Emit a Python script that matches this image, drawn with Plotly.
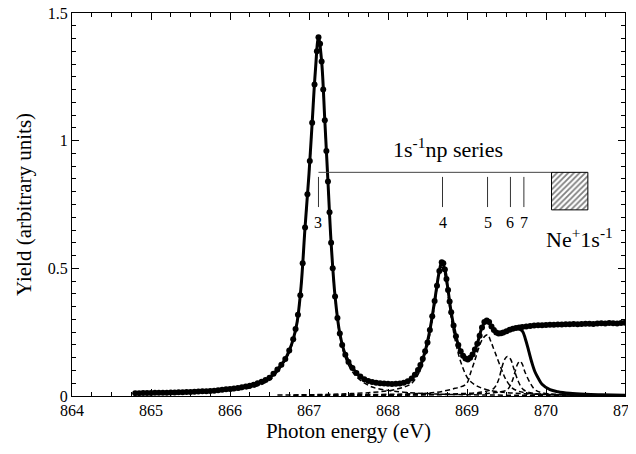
import plotly.graph_objects as go

# ---------------- data ----------------
data_e = [864.80, 864.85, 864.90, 864.95, 865.00, 865.05, 865.10, 865.15, 865.20, 865.25,
          865.30, 865.35, 865.40, 865.45, 865.50, 865.55, 865.60, 865.65, 865.70, 865.75,
          865.80, 865.85, 865.90, 865.95, 866.00, 866.05, 866.10, 866.15, 866.20, 866.25,
          866.30, 866.35, 866.40, 866.45, 866.50, 866.55, 866.60, 866.65, 866.70, 866.75,
          866.80, 866.83, 866.86, 866.89, 866.92, 866.95, 866.98, 867.01, 867.04, 867.07,
          867.10, 867.12, 867.14, 867.16, 867.18, 867.20, 867.22, 867.24, 867.26, 867.28,
          867.30, 867.33, 867.36, 867.39, 867.42, 867.46, 867.50, 867.55, 867.60, 867.65,
          867.70, 867.75, 867.80, 867.85, 867.90, 867.95, 868.00, 868.05, 868.10, 868.15,
          868.20, 868.25, 868.30, 868.34, 868.38, 868.41, 868.44, 868.47, 868.50, 868.53,
          868.56, 868.59, 868.62, 868.65, 868.68, 868.70, 868.72, 868.74, 868.76, 868.78,
          868.80, 868.83, 868.86, 868.89, 868.92, 868.95, 868.98, 869.01, 869.04, 869.07,
          869.10, 869.13, 869.16, 869.19, 869.22, 869.25, 869.28, 869.31, 869.34, 869.37,
          869.40, 869.43, 869.46, 869.50, 869.54, 869.58, 869.62, 869.66, 869.70, 869.75,
          869.80, 869.85, 869.90, 869.95, 870.00, 870.05, 870.10, 870.15, 870.20, 870.25,
          870.30, 870.35, 870.40, 870.45, 870.50, 870.55, 870.60, 870.65, 870.70, 870.75,
          870.80, 870.85, 870.90, 870.95, 871.00]
data_y = [0.011, 0.011, 0.012, 0.012, 0.012, 0.013, 0.013, 0.013, 0.013, 0.014,
          0.014, 0.015, 0.015, 0.016, 0.016, 0.017, 0.018, 0.019, 0.019, 0.020,
          0.021, 0.023, 0.024, 0.026, 0.027, 0.029, 0.031, 0.034, 0.037, 0.040,
          0.044, 0.050, 0.056, 0.063, 0.071, 0.087, 0.104, 0.122, 0.145, 0.178,
          0.222, 0.262, 0.318, 0.395, 0.520, 0.660, 0.790, 0.920, 1.070, 1.220,
          1.350, 1.405, 1.380, 1.310, 1.200, 1.080, 0.960, 0.840, 0.720, 0.600,
          0.500, 0.390, 0.305, 0.245, 0.200, 0.162, 0.133, 0.110, 0.090, 0.076,
          0.066, 0.059, 0.055, 0.052, 0.050, 0.049, 0.048, 0.047, 0.048, 0.049,
          0.052, 0.058, 0.069, 0.083, 0.102, 0.121, 0.146, 0.175, 0.210, 0.258,
          0.312, 0.372, 0.432, 0.490, 0.524, 0.520, 0.495, 0.458, 0.415, 0.370,
          0.328, 0.276, 0.234, 0.200, 0.175, 0.158, 0.147, 0.143, 0.150, 0.163,
          0.182, 0.205, 0.236, 0.268, 0.290, 0.296, 0.290, 0.272, 0.258, 0.249,
          0.245, 0.246, 0.249, 0.254, 0.259, 0.263, 0.266, 0.268, 0.270, 0.272,
          0.274, 0.276, 0.277, 0.277, 0.278, 0.279, 0.279, 0.280, 0.280, 0.281,
          0.281, 0.282, 0.281, 0.282, 0.283, 0.283, 0.282, 0.284, 0.285, 0.284,
          0.286, 0.285, 0.284, 0.286, 0.287]

# fitted sum (solid)
fit_e = [864.8, 865.0, 865.2, 865.4, 865.6, 865.8, 866.0, 866.2, 866.4, 866.5,
         866.6, 866.7, 866.75, 866.8, 866.85, 866.9, 866.95, 867.0, 867.04, 867.08,
         867.12, 867.16, 867.2, 867.24, 867.28, 867.33, 867.39, 867.46, 867.55, 867.65,
         867.8, 868.0, 868.15, 868.25, 868.34, 868.41, 868.47, 868.53, 868.59, 868.65,
         868.68, 868.72, 868.76, 868.8, 868.86, 868.92, 868.98, 869.01, 869.07, 869.13,
         869.19, 869.25, 869.31, 869.37, 869.43, 869.5, 869.58, 869.64, 869.7, 869.74,
         869.78, 869.82, 869.86, 869.9, 869.95, 870.05, 870.15, 870.3, 870.5, 870.7, 871.0]
fit_y = [0.011, 0.012, 0.013, 0.015, 0.018, 0.021, 0.027, 0.037, 0.056, 0.071,
         0.104, 0.145, 0.178, 0.222, 0.29, 0.43, 0.66, 0.87, 1.07, 1.27,
         1.405, 1.31, 1.08, 0.84, 0.60, 0.39, 0.245, 0.162, 0.110, 0.076,
         0.055, 0.048, 0.049, 0.058, 0.083, 0.121, 0.175, 0.258, 0.372, 0.490,
         0.524, 0.495, 0.415, 0.328, 0.234, 0.175, 0.147, 0.143, 0.163, 0.205,
         0.268, 0.296, 0.272, 0.249, 0.246, 0.254, 0.263, 0.264, 0.255, 0.222,
         0.178, 0.132, 0.095, 0.071, 0.046, 0.025, 0.017, 0.011, 0.007, 0.005, 0.003]

# individual components (dashed)
c3_e = [866.0, 866.3, 866.5, 866.6, 866.7, 866.8, 866.85, 866.9, 866.95, 867.0, 867.04, 867.08,
        867.12, 867.16, 867.2, 867.24, 867.28, 867.33, 867.39, 867.46, 867.55, 867.65, 867.8,
        868.0, 868.2, 868.6, 869.2, 870.0, 871.0]
c3_y = [0.02, 0.035, 0.062, 0.095, 0.138, 0.215, 0.285, 0.425, 0.655, 0.865, 1.065, 1.265,
        1.40, 1.305, 1.075, 0.835, 0.595, 0.385, 0.238, 0.15, 0.095, 0.062, 0.035,
        0.022, 0.015, 0.008, 0.004, 0.003, 0.002]
c4_e = [866.6, 867.0, 867.4, 867.8, 868.1, 868.3, 868.41, 868.47, 868.53, 868.59, 868.65,
        868.68, 868.72, 868.76, 868.8, 868.86, 868.93, 869.02, 869.12, 869.25, 869.45,
        869.7, 870.1, 870.6, 871.0]
c4_y = [0.004, 0.005, 0.008, 0.014, 0.026, 0.05, 0.103, 0.158, 0.243, 0.358, 0.478,
        0.505, 0.475, 0.395, 0.305, 0.205, 0.125, 0.065, 0.04, 0.025, 0.015,
        0.009, 0.005, 0.003, 0.002]
c5_e = [866.8, 867.6, 868.2, 868.6, 868.85, 868.99, 869.05, 869.10, 869.14, 869.20, 869.26,
        869.30, 869.35, 869.43, 869.49, 869.57, 869.66, 869.8, 870.0, 870.4, 871.0]
c5_y = [0.003, 0.005, 0.008, 0.014, 0.03, 0.047, 0.095, 0.14, 0.18, 0.225, 0.24,
        0.215, 0.175, 0.11, 0.066, 0.032, 0.018, 0.01, 0.006, 0.004, 0.002]
c6_e = [867.0, 867.8, 868.4, 868.9, 869.2, 869.34, 869.40, 869.44, 869.48, 869.51, 869.55,
        869.59, 869.65, 869.71, 869.8, 870.0, 870.4, 871.0]
c6_y = [0.002, 0.003, 0.005, 0.009, 0.016, 0.03, 0.064, 0.11, 0.145, 0.155, 0.145,
        0.11, 0.057, 0.026, 0.013, 0.007, 0.004, 0.002]
c7_e = [867.2, 868.0, 868.6, 869.1, 869.4, 869.51, 869.57, 869.61, 869.64, 869.67, 869.70,
        869.73, 869.80, 869.86, 869.95, 870.2, 870.6, 871.0]
c7_y = [0.002, 0.003, 0.005, 0.008, 0.015, 0.025, 0.057, 0.097, 0.125, 0.136, 0.125,
        0.097, 0.051, 0.025, 0.013, 0.006, 0.003, 0.002]

# Rydberg series annotation
series_n = ["3", "4", "5", "6", "7"]
series_e = [867.12, 868.69, 869.26, 869.55, 869.72]
series_level = 0.876
edge_lo, edge_hi = 870.07, 870.53
edge_bottom = 0.729

x_ticks = [864, 865, 866, 867, 868, 869, 870, 871]
y_ticks = [0, 0.5, 1, 1.5]
y_tick_text = ["0", "0.5", "1", "1.5"]

FONT = "Liberation Serif"

fig = go.Figure()

dash = "5px,3px"
for ce, cy in [(c3_e, c3_y), (c4_e, c4_y), (c5_e, c5_y), (c6_e, c6_y), (c7_e, c7_y)]:
    fig.add_trace(go.Scatter(x=ce, y=cy, mode="lines",
                             line=dict(color="black", width=1.5, dash=dash, shape="spline"),
                             hoverinfo="skip"))

fig.add_trace(go.Scatter(x=fit_e, y=fit_y, mode="lines",
                         line=dict(color="black", width=3, shape="spline"), hoverinfo="skip"))

fig.add_trace(go.Scatter(x=data_e, y=data_y, mode="markers",
                         marker=dict(color="black", size=6), hoverinfo="skip"))

# series bar and tick marks
fig.add_trace(go.Scatter(x=[series_e[0], edge_lo], y=[series_level, series_level], mode="lines",
                         line=dict(color="#444444", width=1), hoverinfo="skip"))
tx, ty = [], []
for e in series_e:
    tx += [e, e, None]
    ty += [series_level - 0.018, 0.74, None]
fig.add_trace(go.Scatter(x=tx, y=ty, mode="lines", line=dict(color="#333333", width=1),
                         hoverinfo="skip"))
# hatched ionisation edge box
fig.add_trace(go.Scatter(x=[edge_lo, edge_hi, edge_hi, edge_lo, edge_lo],
                         y=[series_level, series_level, edge_bottom, edge_bottom, series_level],
                         mode="lines", fill="toself", fillcolor="white",
                         fillpattern=dict(shape="/", fgcolor="black", bgcolor="white",
                                          size=4, solidity=0.45),
                         line=dict(color="black", width=1), hoverinfo="skip"))

annotations = []
for n, e in zip(series_n, series_e):
    annotations.append(dict(x=e, y=0.678, text=n, showarrow=False,
                            font=dict(family=FONT, size=16, color="black"),
                            xanchor="center", yanchor="middle"))
annotations.append(dict(x=868.76, y=0.97, text="1s<sup>-1</sup>np series", showarrow=False,
                        font=dict(family=FONT, size=22, color="black"),
                        xanchor="center", yanchor="middle"))
annotations.append(dict(x=870.42, y=0.618, text="Ne<sup>+</sup>1s<sup>-1</sup>", showarrow=False,
                        font=dict(family=FONT, size=22, color="black"),
                        xanchor="center", yanchor="middle"))

axis_common = dict(showline=True, linecolor="black", linewidth=1, mirror="ticks",
                   ticks="inside", ticklen=7, tickwidth=1, tickcolor="black",
                   showgrid=False, zeroline=False, automargin=False,
                   ticklabeloverflow="allow",
                   tickfont=dict(family=FONT, size=16, color="black"))

# the page body adds an 8 px offset, so margins are given relative to that
fig.update_layout(
    width=636, height=446,
    margin=dict(l=64, r=19, t=5, b=58),
    paper_bgcolor="white", plot_bgcolor="white",
    showlegend=False,
    font=dict(family=FONT, color="black"),
    annotations=annotations,
    xaxis=dict(range=[864, 871], tickvals=x_ticks,
               minor=dict(dtick=0.25, ticklen=4, ticks="inside", tickcolor="black"),
               title=dict(text="Photon energy (eV)", font=dict(family=FONT, size=21),
                          standoff=5),
               **axis_common),
    yaxis=dict(range=[0, 1.5], tickvals=y_ticks, ticktext=y_tick_text,
               minor=dict(dtick=0.05, ticklen=4, ticks="inside", tickcolor="black"),
               title=dict(text="Yield (arbitrary units)", font=dict(family=FONT, size=21),
                          standoff=10),
               **axis_common),
)

fig.write_html("out.html")
